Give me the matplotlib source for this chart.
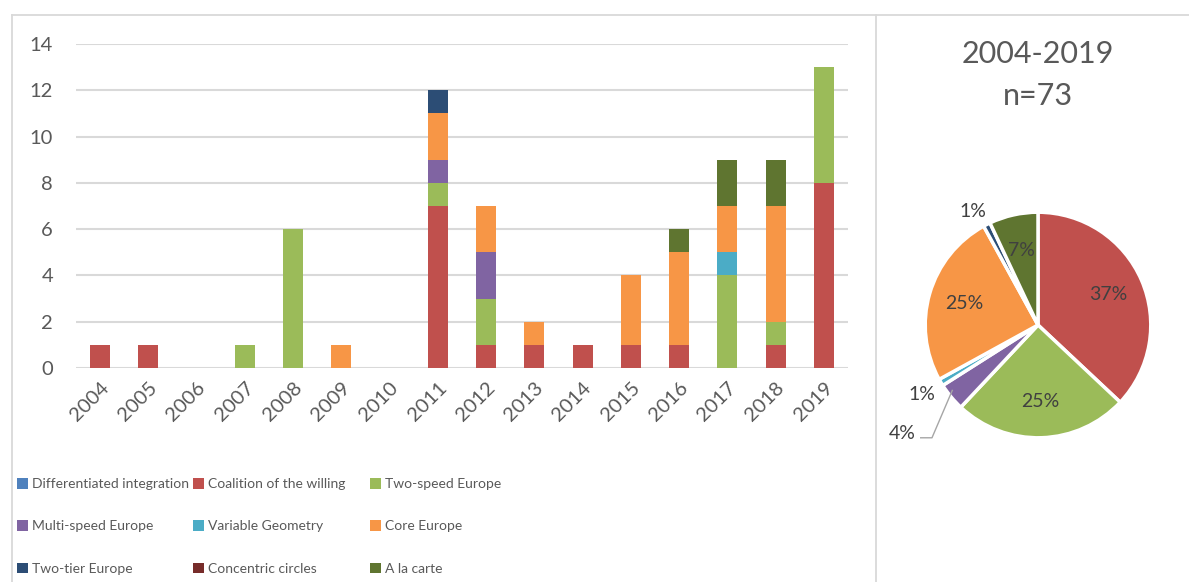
import matplotlib
matplotlib.use('Agg')
import matplotlib.pyplot as plt
from matplotlib.lines import Line2D
from matplotlib.patches import Patch
import numpy as np

plt.rcParams['font.family'] = ['Lato', 'DejaVu Sans']

years = ['2004', '2005', '2006', '2007', '2008', '2009', '2010', '2011',
         '2012', '2013', '2014', '2015', '2016', '2017', '2018', '2019']

names = ['Differentiated integration', 'Coalition of the willing', 'Two-speed Europe',
         'Multi-speed Europe', 'Variable Geometry', 'Core Europe',
         'Two-tier Europe', 'Concentric circles', 'A la carte']
colors = ['#4F81BD', '#C0504D', '#9BBB59', '#8064A2', '#4BACC6', '#F79646',
          '#2C4D75', '#772C2A', '#5F7530']

diff_integration = [0, 0, 0, 0, 0, 0, 0, 0, 0, 0, 0, 0, 0, 0, 0, 0]
coalition        = [1, 1, 0, 0, 0, 0, 0, 7, 1, 1, 1, 1, 1, 0, 1, 8]
two_speed        = [0, 0, 0, 1, 6, 0, 0, 1, 2, 0, 0, 0, 0, 4, 1, 5]
multi_speed      = [0, 0, 0, 0, 0, 0, 0, 1, 2, 0, 0, 0, 0, 0, 0, 0]
variable_geo     = [0, 0, 0, 0, 0, 0, 0, 0, 0, 0, 0, 0, 0, 1, 0, 0]
core_europe      = [0, 0, 0, 0, 0, 1, 0, 2, 2, 1, 0, 3, 4, 2, 5, 0]
two_tier         = [0, 0, 0, 0, 0, 0, 0, 1, 0, 0, 0, 0, 0, 0, 0, 0]
concentric       = [0, 0, 0, 0, 0, 0, 0, 0, 0, 0, 0, 0, 0, 0, 0, 0]
a_la_carte       = [0, 0, 0, 0, 0, 0, 0, 0, 0, 0, 0, 0, 1, 2, 2, 0]

series = [diff_integration, coalition, two_speed, multi_speed, variable_geo,
          core_europe, two_tier, concentric, a_la_carte]

# share of each label over the whole period (pie, clockwise from top)
pie_names = ['Coalition of the willing', 'Two-speed Europe', 'Multi-speed Europe',
             'Variable Geometry', 'Core Europe', 'Two-tier Europe', 'A la carte']
pie_share = [37, 25, 4, 1, 25, 1, 7]
pie_title = '2004-2019\nn=73'

W, H = 1189, 582
fig = plt.figure(figsize=(W / 100, H / 100), dpi=100)
txt = '#595959'
grid = '#D9D9D9'

# panel frames
fig.add_artist(Line2D([12 / W, 1], [1 - 15 / H, 1 - 15 / H], color=grid, lw=1.3))
fig.add_artist(Line2D([12 / W, 12 / W], [0, 1 - 15 / H], color=grid, lw=1.3))
fig.add_artist(Line2D([876 / W, 876 / W], [0, 1 - 15 / H], color=grid, lw=1.3))

# stacked bars
ax = fig.add_axes([76 / W, 1 - 368 / H, (848 - 76) / W, (368 - 44) / H])
x = np.arange(len(years))
bottom = np.zeros(len(years))
for vals, c in zip(series, colors):
    ax.bar(x, vals, 0.41, bottom=bottom, color=c, zorder=3)
    bottom += np.array(vals)

ax.set_xlim(-0.5, len(years) - 0.5)
ax.set_ylim(0, 14)
ax.set_yticks(range(0, 15, 2))
ax.yaxis.grid(True, color=grid, lw=1.5, zorder=0)
for s in ax.spines.values():
    s.set_visible(False)
ax.tick_params(length=0, labelsize=14.5, colors=txt)
ax.tick_params(axis='y', pad=16.5)
ax.set_xticks(x)
ax.set_xticklabels(years, rotation=45, ha='right', rotation_mode='anchor')
ax.tick_params(axis='x', pad=8)

# legend in three columns
col_x = [17, 193, 370]
for i in range(3):
    handles = [Patch(facecolor=colors[j], label=names[j]) for j in (i, i + 3, i + 6)]
    fig.legend(handles=handles, loc='upper left',
               bbox_to_anchor=(col_x[i] / W, 1 - 478 / H),
               frameon=False, fontsize=10, labelcolor=txt,
               handlelength=0.8, handleheight=0.8, handletextpad=0.3,
               labelspacing=2.17, borderaxespad=0, borderpad=0)

# pie of totals
pax = fig.add_axes([(1038 - 150) / W, 1 - (325 + 150) / H, 300 / W, 300 / H])
pie_colors = [colors[names.index(n)] for n in pie_names]
wedges, _ = pax.pie(pie_share, colors=pie_colors, startangle=90, counterclock=False,
                    radius=1, wedgeprops=dict(edgecolor='white', linewidth=2.5))
pax.set_xlim(-1.33, 1.33)
pax.set_ylim(-1.33, 1.33)
pax.set_aspect('equal')
pax.axis('off')

outside = {3: (-1.03, -0.62), 5: (-0.58, 1.01), 2: (-1.2, -0.96)}
for i, (w, v) in enumerate(zip(wedges, pie_share)):
    if i in outside:
        px, py = outside[i]
    else:
        a = np.deg2rad((w.theta1 + w.theta2) / 2)
        px, py = 0.68 * np.cos(a), 0.68 * np.sin(a)
    pax.text(px, py, f'{v}%', ha='center', va='center', fontsize=14, color='#404040')

# leader line for the small purple slice
pax.plot([-1.04, -0.94, -0.76], [-1.0, -1.0, -0.58], color='#A6A6A6', lw=1, clip_on=False)

fig.text(1038 / W, 1 - 75 / H, pie_title, ha='center', va='center',
         fontsize=22, color=txt, linespacing=1.6)

fig.savefig('out.png', dpi=100, facecolor='white')
